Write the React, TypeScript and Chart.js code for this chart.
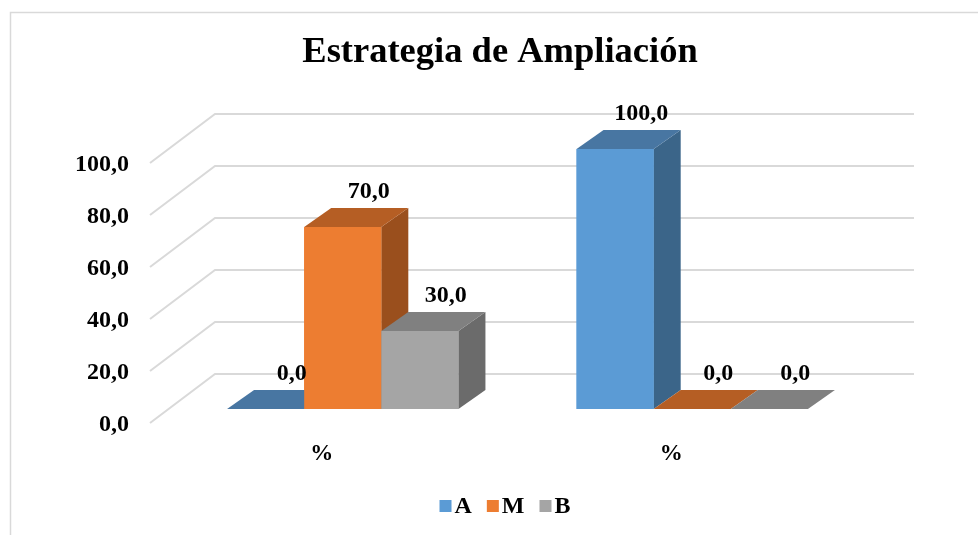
import React, { useEffect, useRef } from "react";
import { Chart, registerables } from "chart.js";

Chart.register(...registerables);

const chartTitle = "Estrategia de Ampliación";
const categories = ["%", "%"];
const seriesNames = ["A", "M", "B"];
const valuesA = [0, 100];
const valuesM = [70, 0];
const valuesB = [30, 0];
const yTicks = [0, 20, 40, 60, 80, 100];

const FONT = '"Liberation Serif", "Times New Roman", serif';
const frontColors = ["#5B9BD5", "#ED7D31", "#A5A5A5"];
const topColors = ["#4876A2", "#B55E24", "#808080"];
const sideColors = ["#3B6589", "#9A4F1D", "#6B6B6B"];
const GRID = "#D9D9D9";

// 3D offsets relative to the bar front plane
const BACK = { dx: 47, dy: -35 };
const FRONT = { dx: -18, dy: 14 };
const BAR = { dx: 27, dy: -19 };

const fmt = (v: number) => v.toFixed(1).replace(".", ",");

const threeD = {
  id: "threeD",
  beforeDatasetsDraw(chart: any) {
    const { ctx, chartArea, scales } = chart;
    const y = scales.y;
    const x = scales.x;
    ctx.save();
    // outer border
    ctx.strokeStyle = GRID;
    ctx.lineWidth = 1.5;
    ctx.strokeRect(10.5, 12.5, 1200, 800);
    // gridlines (floor diagonal + back wall)
    ctx.lineWidth = 2;
    for (const t of yTicks) {
      const py = y.getPixelForValue(t);
      ctx.beginPath();
      ctx.moveTo(chartArea.left + FRONT.dx, py + FRONT.dy);
      ctx.lineTo(chartArea.left + BACK.dx, py + BACK.dy);
      ctx.lineTo(chartArea.right + BACK.dx, py + BACK.dy);
      ctx.stroke();
    }
    // tick labels
    ctx.fillStyle = "#000";
    ctx.font = `bold 24px ${FONT}`;
    ctx.textAlign = "right";
    ctx.textBaseline = "alphabetic";
    for (const t of yTicks) {
      const py = y.getPixelForValue(t) + FRONT.dy;
      ctx.fillText(fmt(t), chartArea.left + FRONT.dx - 21, py + 8);
    }
    // category labels
    ctx.textAlign = "center";
    ctx.font = `bold 23px ${FONT}`;
    categories.forEach((c, i) => {
      const px = x.getPixelForValue(i) - 21;
      ctx.fillText(c, px, chartArea.bottom + 51);
    });
    // title
    ctx.font = `bold 36.5px ${FONT}`;
    ctx.fillText(chartTitle, 500, 62);
    // legend
    ctx.font = `bold 24px ${FONT}`;
    ctx.textAlign = "left";
    const widths = seriesNames.map((n) => ctx.measureText(n).width);
    const total = widths.reduce((a, b) => a + b + 15, 0) + seriesNames.length * 15 - 15;
    let lx = 505 - total / 2;
    seriesNames.forEach((n, i) => {
      ctx.fillStyle = frontColors[i];
      ctx.fillRect(lx, 500, 12, 12);
      lx += 15;
      ctx.fillStyle = "#000";
      ctx.fillText(n, lx, 513);
      lx += widths[i] + 15;
    });
    ctx.restore();
  },
  afterDatasetsDraw(chart: any) {
    const { ctx } = chart;
    const bars: any[] = [];
    chart.data.datasets.forEach((ds: any, di: number) => {
      const meta = chart.getDatasetMeta(di);
      meta.data.forEach((el: any, i: number) => {
        const p = el.getProps(["x", "y", "base", "width"], true);
        bars.push({ ...p, di, v: ds.data[i] });
      });
    });
    bars.sort((a, b) => a.x - b.x);
    ctx.save();
    for (const b of bars) {
      const l = b.x - b.width / 2;
      const r = b.x + b.width / 2;
      const top = Math.min(b.y, b.base);
      const bot = Math.max(b.y, b.base);
      // side
      ctx.fillStyle = sideColors[b.di];
      ctx.beginPath();
      ctx.moveTo(r, top);
      ctx.lineTo(r + BAR.dx, top + BAR.dy);
      ctx.lineTo(r + BAR.dx, bot + BAR.dy);
      ctx.lineTo(r, bot);
      ctx.closePath();
      ctx.fill();
      // top
      ctx.fillStyle = topColors[b.di];
      ctx.beginPath();
      ctx.moveTo(l, top);
      ctx.lineTo(l + BAR.dx, top + BAR.dy);
      ctx.lineTo(r + BAR.dx, top + BAR.dy);
      ctx.lineTo(r, top);
      ctx.closePath();
      ctx.fill();
      // front
      ctx.fillStyle = frontColors[b.di];
      ctx.fillRect(l, top, r - l, bot - top);
    }
    // value labels
    ctx.fillStyle = "#000";
    ctx.font = `bold 24px ${FONT}`;
    ctx.textAlign = "center";
    ctx.textBaseline = "alphabetic";
    for (const b of bars) {
      ctx.fillText(fmt(b.v), b.x + 26, b.y - 29);
    }
    ctx.restore();
  },
};

export default function App() {
  const ref = useRef<HTMLCanvasElement | null>(null);
  useEffect(() => {
    if (!ref.current) return;
    const chart = new Chart(ref.current, {
      type: "bar",
      data: {
        labels: categories,
        datasets: [
          { label: seriesNames[0], data: valuesA, backgroundColor: frontColors[0] },
          { label: seriesNames[1], data: valuesM, backgroundColor: frontColors[1] },
          { label: seriesNames[2], data: valuesB, backgroundColor: frontColors[2] },
        ],
      },
      options: {
        responsive: false,
        devicePixelRatio: 1,
        animation: false,
        layout: { padding: { left: 168, right: 111, top: 149, bottom: 126 } },
        datasets: { bar: { barPercentage: 1, categoryPercentage: 0.662, borderWidth: 0 } },
        scales: {
          x: { display: false },
          y: { display: false, min: 0, max: 100 },
        },
        plugins: {
          legend: { display: false },
          title: { display: false },
          tooltip: { enabled: false },
        },
      },
      plugins: [threeD],
    });
    return () => chart.destroy();
  }, []);
  return (
    <div style={{ position: "absolute", left: 0, top: 0, width: 978, height: 535, background: "#fff" }}>
      <canvas ref={ref} width={978} height={535} style={{ display: "block" }} />
    </div>
  );
}
